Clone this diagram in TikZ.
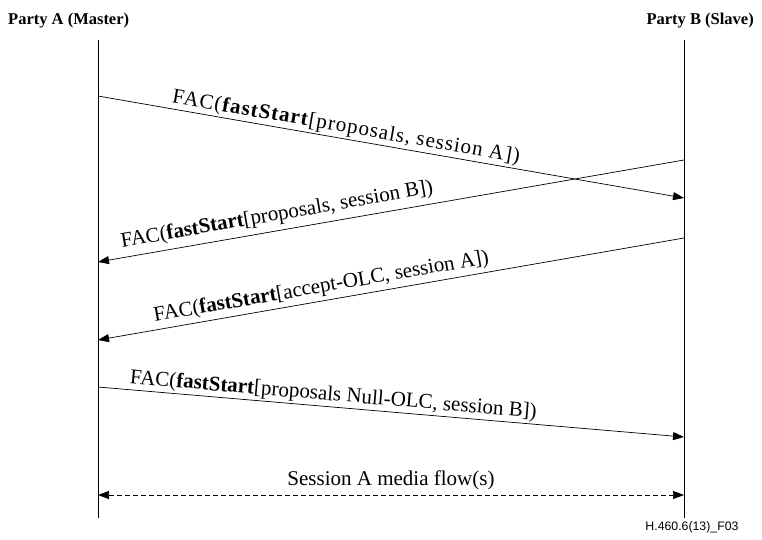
\documentclass[tikz,border=0pt]{standalone}
\usepackage{fontspec}
\setmainfont{Liberation Serif}
\newfontfamily\labelsans{Liberation Sans}
\usetikzlibrary{arrows.meta}
\tikzset{
  lifeline/.style={line width=0.7pt},
  msg/.style={line width=0.7pt,-{Triangle[length=11pt,width=8pt]}},
  flow/.style={line width=0.7pt,dash pattern=on 5pt off 3pt,{Triangle[length=11pt,width=8pt]}-{Triangle[length=11pt,width=8pt]}},
  lbl/.style={font=\fontsize{21}{24}\selectfont,inner sep=1.5pt},
  party/.style={font=\fontsize{16.5}{19}\selectfont\bfseries,inner sep=0pt}
}
\begin{document}
\begin{tikzpicture}[x=1pt,y=-1pt]
\useasboundingbox (0,0) rectangle (762,539);
% parties
\node[party,anchor=base west] (pa) at (8,24) {Party A (Master)};
\node[party,anchor=base east] (pb) at (754,24) {Party B (Slave)};
% lifelines
\coordinate (atop) at (98,40);
\coordinate (abot) at (98,518);
\coordinate (btop) at (684,40);
\coordinate (bbot) at (684,518);
\draw[lifeline] (atop) -- (abot);
\draw[lifeline] (btop) -- (bbot);
% message endpoints
\coordinate (m1s) at (98,96);
\coordinate (m1e) at (684,198);
\coordinate (m2s) at (684,160);
\coordinate (m2e) at (98,262);
\coordinate (m3s) at (684,238);
\coordinate (m3e) at (98,340);
\coordinate (m4s) at (98,387);
\coordinate (m4e) at (684,437);
\coordinate (fa) at (98,495);
\coordinate (fb) at (684,495);
% messages
\draw[msg] (m1s) -- node[lbl,sloped,above,pos=0.42] (l1) {\addfontfeature{LetterSpace=5}FAC(\textbf{fastStart}[proposals, session A])} (m1e);
\draw[msg] (m2s) -- node[lbl,sloped,above,pos=0.69,yshift=4pt] (l2) {FAC(\textbf{fastStart}[proposals, session B])} (m2e);
\draw[msg] (m3s) -- node[lbl,sloped,above,pos=0.615,yshift=2pt] (l3) {FAC(\textbf{fastStart}[accept-OLC, session A])} (m3e);
\draw[msg] (m4s) -- node[lbl,sloped,above,pos=0.40] (l4) {FAC(\textbf{fastStart}[proposals Null-OLC, session B])} (m4e);
\draw[flow] (fa) -- node[lbl,above,pos=0.5,yshift=3pt] (l5) {Session A media flow(s)} (fb);
% figure id
\node[font=\labelsans\fontsize{12.3}{14}\selectfont,anchor=base east] (fig) at (742,530) {H.460.6(13)\_F03};
\end{tikzpicture}
\end{document}
